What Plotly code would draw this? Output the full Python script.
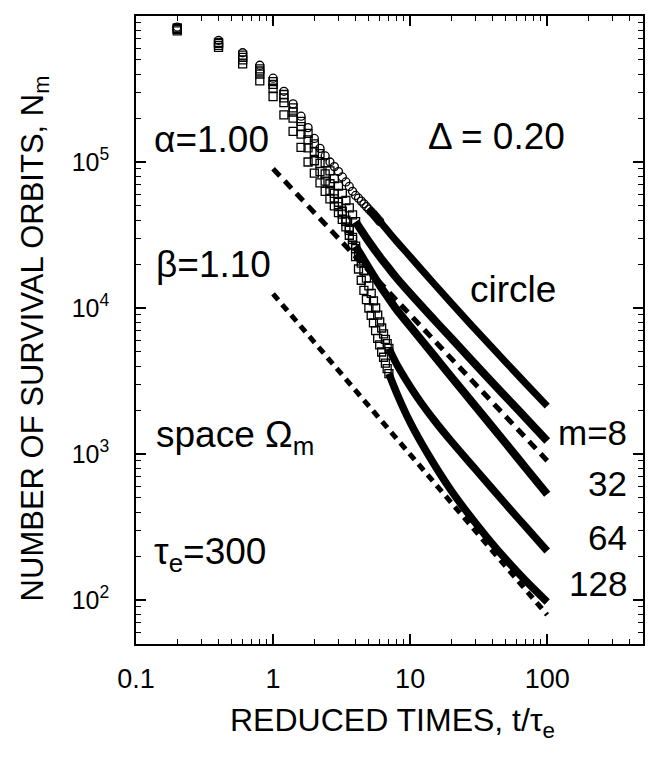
import plotly.graph_objects as go

# early times, every 0.2 t/tau_e, markers still separate
t_early = [0.2, 0.4, 0.6, 0.8, 1.0, 1.2, 1.4, 1.6, 1.8, 2.0,
           2.2, 2.4, 2.6, 2.8, 3.0, 3.2, 3.4, 3.6, 3.8, 4.0]
n_circle_early = [8.4e5, 6.8e5, 5.6e5, 4.6e5, 3.75e5, 3.05e5, 2.5e5, 2.06e5, 1.72e5, 1.45e5,
                  1.24e5, 1.1e5, 1.0e5, 9.3e4, 8.6e4, 7.9e4, 7.3e4, 6.8e4, 6.3e4, 5.9e4]
n_m8_early = [8.3e5, 6.6e5, 5.4e5, 4.35e5, 3.55e5, 2.9e5, 2.35e5, 1.9e5, 1.57e5, 1.33e5,
              1.14e5, 9.9e4, 8.7e4, 7.7e4, 6.85e4, 6.1e4, 5.45e4, 4.85e4, 4.35e4, 3.9e4]
n_m32_early = [8.2e5, 6.5e5, 5.2e5, 4.2e5, 3.4e5, 2.75e5, 2.2e5, 1.75e5, 1.42e5, 1.18e5,
               9.8e4, 8.3e4, 7.1e4, 6.1e4, 5.3e4, 4.6e4, 4.0e4, 3.5e4, 3.05e4, 2.65e4]
n_m64_early = [8.1e5, 6.3e5, 5.0e5, 4.0e5, 3.2e5, 2.55e5, 2.0e5, 1.55e5, 1.25e5, 1.02e5,
               8.6e4, 7.4e4, 6.4e4, 5.6e4, 4.95e4, 4.4e4, 3.9e4, 3.4e4, 2.95e4, 2.55e4]
n_m128_early = [7.9e5, 6.1e5, 4.7e5, 3.6e5, 2.8e5, 2.1e5, 1.62e5, 1.26e5, 1.0e5, 8.4e4,
                7.2e4, 6.3e4, 5.6e4, 5.0e4, 4.5e4, 4.05e4, 3.6e4, 3.15e4, 2.7e4, 2.25e4]

# after t=4 some markers are still separate before merging into bands
t_circle_knee = [4.2, 4.4, 4.6, 4.8, 5.0, 5.2, 5.4, 5.6, 5.8, 6.0]
n_circle_knee = [5.65e4, 5.4e4, 5.17e4, 4.95e4, 4.75e4, 4.57e4, 4.4e4, 4.23e4, 4.07e4, 3.92e4]
t_knee = [4.2, 4.4, 4.6, 4.8, 5.0, 5.2, 5.4, 5.6, 5.8, 6.0, 6.2, 6.4, 6.6, 6.8, 7.0]
n_m64_knee = [2.28e4, 2.03e4, 1.8e4, 1.6e4, 1.42e4, 1.26e4, 1.12e4, 1.0e4, 8.95e3, 8.05e3,
              7.3e3, 6.65e3, 6.1e3, 5.7e3, 5.3e3]
n_m128_knee = [1.85e4, 1.55e4, 1.32e4, 1.14e4, 1.0e4, 8.9e3, 7.9e3, 7.0e3, 6.2e3, 5.6e3,
               5.0e3, 4.6e3, 4.2e3, 3.85e3, 3.55e3]

# late times, markers merge into a solid band
t_circle_band = [5, 6, 7, 8, 10, 15, 20, 30, 50, 70, 100]
n_circle_band = [4.75e4, 3.92e4, 3.3e4, 2.85e4, 2.25e4, 1.46e4, 1.08e4, 7.1e3, 4.25e3, 3.03e3, 2.13e3]
t_band = [4, 5, 6, 7, 8, 10, 15, 20, 30, 50, 70, 100]
n_m8_band = [3.9e4, 2.85e4, 2.25e4, 1.87e4, 1.6e4, 1.26e4, 8.3e3, 6.2e3, 4.1e3, 2.46e3, 1.76e3, 1.23e3]
n_m32_band = [2.65e4, 1.88e4, 1.43e4, 1.16e4, 9.7e3, 7.5e3, 4.7e3, 3.37e3, 2.12e3, 1.18e3, 800, 530]
t_m64_band = [7, 8, 10, 12, 15, 20, 30, 50, 70, 100]
n_m64_band = [5.3e3, 4.1e3, 2.9e3, 2.25e3, 1.7e3, 1.22e3, 785, 452, 316, 217]
t_m128_band = [7, 8, 10, 13.3, 20, 36.5, 63.7, 100]
n_m128_band = [3.55e3, 2.6e3, 1.65e3, 1.02e3, 560, 268, 148, 97]

# power-law guides
t_fit = [1, 100]
n_alpha = [9.0e4, 900]
n_beta = [1.25e4, 79]

x_ticks = [0.1, 1, 10, 100]
x_ticktext = ["0.1", "1", "10", "100"]
y_ticks = [1e2, 1e3, 1e4, 1e5, 1e6]
y_ticktext = ["10<sup>2</sup>", "10<sup>3</sup>", "10<sup>4</sup>", "10<sup>5</sup>", "10<sup>6</sup>"]

FONT = "Liberation Sans, Arial, Helvetica, sans-serif"

fig = go.Figure()

def band(t, n, w=7.5):
    fig.add_trace(go.Scatter(x=t, y=n, mode="lines", showlegend=False,
                             line=dict(color="black", width=w, shape="spline", smoothing=1.0)))

def marks(t, n, sym):
    fig.add_trace(go.Scatter(x=t, y=n, mode="markers", showlegend=False,
                             marker=dict(symbol=sym, size=8, color="black",
                                         line=dict(color="black", width=1.3))))

band(t_circle_band, n_circle_band, 7)
band(t_band, n_m8_band, 8)
band(t_band, n_m32_band, 8)
band(t_m64_band, n_m64_band)
band(t_m128_band, n_m128_band)

marks(t_early, n_m128_early, "square-open")
marks(t_early, n_m64_early, "square-open")
marks(t_early, n_m32_early, "square-open")
marks(t_early, n_m8_early, "square-open")
marks(t_early, n_circle_early, "circle-open")
marks(t_circle_knee, n_circle_knee, "circle-open")
marks(t_knee, n_m64_knee, "square-open")
marks(t_knee, n_m128_knee, "square-open")

fig.add_trace(go.Scatter(x=t_fit, y=n_alpha, mode="lines", showlegend=False,
                         line=dict(color="black", width=5, dash="10px,7px")))
fig.add_trace(go.Scatter(x=t_fit, y=n_beta, mode="lines", showlegend=False,
                         line=dict(color="black", width=5, dash="8px,6px")))

minor_x = [0.2, 0.3, 0.4, 0.5, 0.6, 0.7, 0.8, 0.9,
           2, 3, 4, 5, 6, 7, 8, 9,
           20, 30, 40, 50, 60, 70, 80, 90,
           200, 300, 400]
minor_y = [60, 70, 80, 90,
           200, 300, 400, 500, 600, 700, 800, 900,
           2e3, 3e3, 4e3, 5e3, 6e3, 7e3, 8e3, 9e3,
           2e4, 3e4, 4e4, 5e4, 6e4, 7e4, 8e4, 9e4,
           2e5, 3e5, 4e5, 5e5, 6e5, 7e5, 8e5, 9e5]

fig.update_xaxes(type="log", range=[-1, 2.69897],
                 tickmode="array", tickvals=x_ticks, ticktext=x_ticktext,
                 ticks="inside", ticklen=10, tickwidth=1.5, tickcolor="black",
                 showline=True, linewidth=1.5, linecolor="black", mirror="ticks",
                 showgrid=False, zeroline=False, ticklabelstandoff=10,
                 tickfont=dict(family=FONT, size=27, color="black"),
                 minor=dict(tickmode="array", tickvals=minor_x, ticks="inside",
                            ticklen=5, tickwidth=1.2, tickcolor="black", showgrid=False))
fig.update_yaxes(type="log", range=[1.69897, 6],
                 tickmode="array", tickvals=y_ticks, ticktext=y_ticktext,
                 ticks="inside", ticklen=10, tickwidth=1.5, tickcolor="black",
                 showline=True, linewidth=1.5, linecolor="black", mirror="ticks",
                 showgrid=False, zeroline=False, ticklabelstandoff=20,
                 tickfont=dict(family=FONT, size=25, color="black"),
                 minor=dict(tickmode="array", tickvals=minor_y, ticks="inside",
                            ticklen=5, tickwidth=1.2, tickcolor="black", showgrid=False))

def note(text, x, y, xanchor="left", size=37, angle=0):
    fig.add_annotation(text=text, x=x, y=y, xref="paper", yref="paper",
                       xanchor=xanchor, yanchor="middle", showarrow=False,
                       textangle=angle, font=dict(family=FONT, size=size, color="black"))

note("α=1.00", 0.032, 0.803)
note("Δ = 0.20", 0.572, 0.808)
note("β=1.10", 0.036, 0.605)
note("space Ω<sub>m</sub>", 0.036, 0.33)
note("τ<sub>e</sub>=300", 0.032, 0.143)
note("circle", 0.655, 0.565)
note("m=8", 0.972, 0.336, "right", 35)
note("32", 0.972, 0.255, "right", 35)
note("64", 0.972, 0.170, "right", 35)
note("128", 0.972, 0.097, "right", 35)
note("NUMBER OF SURVIVAL ORBITS, N<sub>m</sub>", -0.2, 0.486, "center", 31, -90)
note("REDUCED TIMES, t/τ<sub>e</sub>", 0.505, -0.125, "center", 32)

# page body has an 8px margin, so the figure is drawn 8px smaller
fig.update_layout(width=647, height=756, margin=dict(l=128, r=12, t=6, b=120),
                  plot_bgcolor="white", paper_bgcolor="white", showlegend=False)

fig.write_html("out.html")
